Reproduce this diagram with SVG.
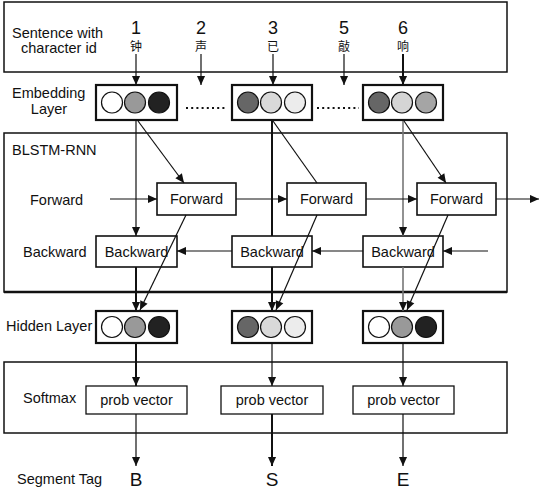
<svg xmlns="http://www.w3.org/2000/svg" width="544" height="492" viewBox="0 0 544 492">
<style>
text{font-family:"Liberation Sans","Noto Sans CJK SC",sans-serif;fill:#111}
.lbl{font-size:14.5px}
.mid{text-anchor:middle}
.big{font-size:18px}
.cjk{font-size:12px;font-family:"Noto Sans CJK SC","Liberation Sans",sans-serif}
.frame{fill:none;stroke:#111;stroke-width:1.5}
.emb{fill:#fff;stroke:#111;stroke-width:2.2}
.cell{fill:#fff;stroke:#111;stroke-width:1.6}
.pv{fill:#fff;stroke:#111;stroke-width:1.3}
.c{stroke:#111;stroke-width:1.2}
.ln{fill:none;stroke:#111;stroke-width:1.2}
.thk{fill:none;stroke:#111;stroke-width:2}
.gry{fill:none;stroke:#777;stroke-width:1.6}
.dots{fill:none;stroke:#111;stroke-width:2;stroke-dasharray:2 3.2}
</style>
<defs>
<marker id="ah" viewBox="0 0 10 10" refX="10" refY="5" markerWidth="10" markerHeight="9" markerUnits="userSpaceOnUse" orient="auto"><path d="M0,0.5 L10,5 L0,9.5 z" fill="#111"/></marker>
</defs>
<rect width="544" height="492" fill="#fff"/>

<g id="input-panel">
<rect class="frame" x="4" y="2" width="503" height="70"/>
<text class="lbl" x="12" y="38">Sentence with</text>
<text class="lbl" x="21" y="53">character id</text>
<text class="big mid" x="136" y="34">1</text>
<text class="big mid" x="201" y="34">2</text>
<text class="big mid" x="273" y="34">3</text>
<text class="big mid" x="344" y="34">5</text>
<text class="big mid" x="403" y="34">6</text>
<text class="cjk mid" x="136" y="51">钟</text>
<text class="cjk mid" x="201" y="51">声</text>
<text class="cjk mid" x="273" y="51">已</text>
<text class="cjk mid" x="344" y="51">敲</text>
<text class="cjk mid" x="403" y="51">响</text>
</g>

<g id="embedding-layer">
<text class="lbl" x="12" y="98">Embedding</text>
<text class="lbl mid" x="49" y="114">Layer</text>
<path class="dots" d="M186,108 H226 M317,108 H359"/>
</g>
<g id="emb1">
<rect class="emb" x="96" y="85" width="81" height="35"/>
<circle class="c" cx="112" cy="102.5" r="10.5" fill="#fff"/>
<circle class="c" cx="135" cy="102.5" r="10.5" fill="#999"/>
<circle class="c" cx="159" cy="102.5" r="10.5" fill="#222"/>
</g>
<g id="emb2">
<rect class="emb" x="232" y="85" width="80" height="35"/>
<circle class="c" cx="248" cy="102.5" r="10.5" fill="#666"/>
<circle class="c" cx="271" cy="102.5" r="10.5" fill="#d9d9d9"/>
<circle class="c" cx="295" cy="102.5" r="10.5" fill="#ececec"/>
</g>
<g id="emb3">
<rect class="emb" x="363" y="85" width="80" height="35"/>
<circle class="c" cx="379" cy="102.5" r="10.5" fill="#666"/>
<circle class="c" cx="402" cy="102.5" r="10.5" fill="#d5d5d5"/>
<circle class="c" cx="426" cy="102.5" r="10.5" fill="#a5a5a5"/>
</g>

<g id="blstm-panel">
<rect class="frame" x="4" y="133" width="503" height="159"/>
<path d="M4,292 H507" stroke="#111" stroke-width="2.6"/>
<text class="lbl" x="12" y="155">BLSTM-RNN</text>
<text class="lbl" x="30" y="205">Forward</text>
<text class="lbl" x="23" y="257">Backward</text>
</g>
<g id="fw1"><rect class="cell" x="157" y="183" width="79" height="32"/><text class="lbl mid" x="196.5" y="204">Forward</text></g>
<g id="fw2"><rect class="cell" x="287" y="183" width="79" height="32"/><text class="lbl mid" x="326.5" y="204">Forward</text></g>
<g id="fw3"><rect class="cell" x="417" y="183" width="79" height="32"/><text class="lbl mid" x="456.5" y="204">Forward</text></g>
<g id="bw1"><rect class="cell" x="96" y="236" width="81" height="31"/><text class="lbl mid" x="136.5" y="256.5">Backward</text></g>
<g id="bw2"><rect class="cell" x="232" y="236" width="80" height="31"/><text class="lbl mid" x="272" y="256.5">Backward</text></g>
<g id="bw3"><rect class="cell" x="363" y="236" width="80" height="31"/><text class="lbl mid" x="403" y="256.5">Backward</text></g>

<g id="hidden-layer"><text class="lbl" x="6" y="331">Hidden Layer</text></g>
<g id="hid1">
<rect class="emb" x="96" y="311" width="81" height="32"/>
<circle class="c" cx="112" cy="327" r="10.5" fill="#fff"/>
<circle class="c" cx="135" cy="327" r="10.5" fill="#999"/>
<circle class="c" cx="159" cy="327" r="10.5" fill="#222"/>
</g>
<g id="hid2">
<rect class="emb" x="232" y="311" width="80" height="32"/>
<circle class="c" cx="248" cy="327" r="10.5" fill="#666"/>
<circle class="c" cx="271" cy="327" r="10.5" fill="#d9d9d9"/>
<circle class="c" cx="295" cy="327" r="10.5" fill="#ececec"/>
</g>
<g id="hid3">
<rect class="emb" x="363" y="311" width="80" height="32"/>
<circle class="c" cx="379" cy="327" r="10.5" fill="#fff"/>
<circle class="c" cx="402" cy="327" r="10.5" fill="#999"/>
<circle class="c" cx="426" cy="327" r="10.5" fill="#222"/>
</g>

<g id="softmax-panel">
<rect class="frame" x="4" y="362" width="503" height="71"/>
<text class="lbl" x="23" y="403">Softmax</text>
</g>
<g id="pv1"><rect class="pv" x="86" y="386" width="101" height="28"/><text class="lbl mid" x="136.5" y="405">prob vector</text></g>
<g id="pv2"><rect class="pv" x="221" y="386" width="102" height="28"/><text class="lbl mid" x="272" y="405">prob vector</text></g>
<g id="pv3"><rect class="pv" x="353" y="386" width="101" height="28"/><text class="lbl mid" x="403.5" y="405">prob vector</text></g>

<g id="output-tags">
<text class="lbl" x="17" y="484">Segment Tag</text>
<text class="mid" style="font-size:19px" x="136" y="486">B</text>
<text class="mid" style="font-size:19px" x="272" y="486">S</text>
<text class="mid" style="font-size:19px" x="403" y="486">E</text>
</g>

<g id="connectors">
<path class="ln" d="M136,54 V85" marker-end="url(#ah)"/>
<path class="ln" d="M201,54 V85" marker-end="url(#ah)"/>
<path class="ln" d="M273,54 V85" marker-end="url(#ah)"/>
<path class="ln" d="M344,54 V85" marker-end="url(#ah)"/>
<path class="thk" d="M403,54 V85" marker-end="url(#ah)"/>

<path class="ln" d="M136,121 V236" marker-end="url(#ah)"/>
<path class="thk" d="M272,121 V236"/>
<path class="gry" d="M403,121 V236" marker-end="url(#ah)"/>

<path class="ln" d="M138,121 L184,183" marker-end="url(#ah)"/>
<path class="ln" d="M273,121 L317,183"/>
<path class="ln" d="M404,121 L446,183" marker-end="url(#ah)"/>

<path class="ln" d="M110,199 H157" marker-end="url(#ah)"/>
<path class="ln" d="M236,199 H287" marker-end="url(#ah)"/>
<path class="ln" d="M366,199 H417" marker-end="url(#ah)"/>
<path class="ln" d="M496,199 H539" marker-end="url(#ah)"/>

<path class="ln" d="M488,251 H443" marker-end="url(#ah)"/>
<path class="ln" d="M363,251 H312" marker-end="url(#ah)"/>
<path class="ln" d="M232,251 H177" marker-end="url(#ah)"/>

<path class="ln" d="M186,215 L140,310" marker-end="url(#ah)"/>
<path class="ln" d="M317,215 L276,310" marker-end="url(#ah)"/>
<path class="ln" d="M448,215 L407,310" marker-end="url(#ah)"/>

<path class="thk" d="M136,267 V311" marker-end="url(#ah)"/>
<path class="thk" d="M272,267 V311" marker-end="url(#ah)"/>
<path class="gry" d="M403,267 V311" marker-end="url(#ah)"/>

<path class="thk" d="M136,343 V386" marker-end="url(#ah)"/>
<path class="ln" d="M272,343 V386" marker-end="url(#ah)"/>
<path class="ln" d="M403,343 V386" marker-end="url(#ah)"/>

<path class="ln" d="M136,414 V466" marker-end="url(#ah)"/>
<path class="thk" d="M272,414 V466" marker-end="url(#ah)"/>
<path class="ln" d="M403,414 V466" marker-end="url(#ah)"/>
</g>
</svg>
